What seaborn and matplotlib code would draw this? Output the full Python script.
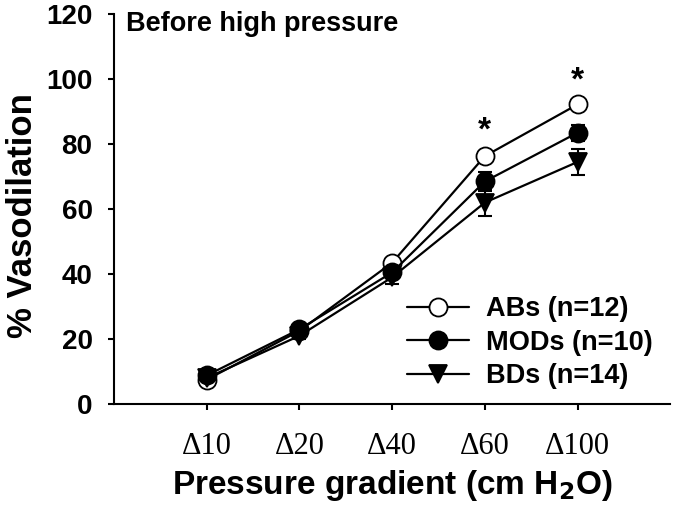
import matplotlib
matplotlib.use("Agg")
import matplotlib.pyplot as plt
import seaborn as sns
import pandas as pd
import numpy as np

categories = ["Δ10", "Δ20", "Δ40", "Δ60", "Δ100"]
groups = ["ABs (n=12)", "MODs (n=10)", "BDs (n=14)"]
abs_vals = [7.5, 22.5, 43.5, 76.3, 92.2]
mods_vals = [8.8, 23.0, 40.5, 68.5, 83.5]
bds_vals = [8.0, 21.0, 39.0, 62.0, 74.5]
abs_se = [1.0, 1.0, 1.5, 1.5, 1.5]
mods_se = [1.0, 1.0, 1.5, 3.0, 2.5]
bds_se = [1.0, 1.0, 2.0, 4.0, 4.0]
star_positions = ["Δ60", "Δ100"]
star_heights = [84.0, 99.5]

sns.set_theme(style="ticks")
plt.rcParams['font.family'] = ['Liberation Sans', 'DejaVu Sans']
plt.rcParams['text.color'] = 'black'
plt.rcParams['axes.labelcolor'] = 'black'
plt.rcParams['xtick.color'] = 'black'
plt.rcParams['ytick.color'] = 'black'

fig = plt.figure(figsize=(6.75, 5.13), dpi=100)
ax = fig.add_axes([0.169, 0.2125, 0.824, 0.760])

xpos = list(range(1, len(categories) + 1))
series = [
    (groups[0], abs_vals, abs_se, "o", "white", 3),
    (groups[2], bds_vals, bds_se, "v", "black", 4),
    (groups[1], mods_vals, mods_se, "o", "black", 5),
]
for name, vals, se, mk, fc, z in series:
    df = pd.DataFrame({"x": xpos, "y": vals})
    ax.errorbar(xpos, vals, yerr=se, fmt="none", ecolor="black",
                elinewidth=1.5, capsize=5, capthick=1.5, zorder=z - 0.5)
    sns.lineplot(data=df, x="x", y="y", ax=ax, color="black", linewidth=1.6,
                 marker=mk, markersize=13, markerfacecolor=fc,
                 markeredgecolor="black", markeredgewidth=1.3, zorder=z,
                 label=name)

for cat, h in zip(star_positions, star_heights):
    ax.text(categories.index(cat) + 1, h, "*", ha="center", va="center",
            fontsize=24, fontweight="bold", color="black")

ax.set_xlim(0, 6)
ax.set_ylim(0, 120)
ax.set_yticks(range(0, 121, 20))
ax.set_xticks(xpos)
ax.set_xticklabels(categories, family=['Liberation Serif', 'DejaVu Serif'], fontsize=22)
for lab in ax.get_yticklabels():
    lab.set_fontsize(20)
    lab.set_fontweight("bold")
ax.tick_params(axis="both", direction="out", length=4.5, width=1.5, colors="black")
ax.tick_params(axis="x", pad=15.5)
ax.tick_params(axis="y", pad=11)
for s in ["top", "right"]:
    ax.spines[s].set_visible(False)
for s in ["left", "bottom"]:
    ax.spines[s].set_linewidth(1.5)
    ax.spines[s].set_color("black")

ax.set_ylabel("% Vasodilation", fontsize=25, fontweight="bold", labelpad=5)
ax.yaxis.label.set_y(0.483)
ax.set_xlabel("Pressure gradient (cm H$_\\mathbf{2}$O)", fontsize=24, fontweight="bold", labelpad=5)

fig.text(126 / 675, 1 - 11 / 513, "Before high pressure", ha="left", va="top",
         fontsize=19.5, fontweight="bold", color="black")

hl, ll = ax.get_legend_handles_labels()
order = [ll.index(g) for g in groups]
leg = ax.legend([hl[i] for i in order], [ll[i] for i in order], loc="upper left",
                bbox_to_anchor=(407 / 675, 1 - 296 / 513), bbox_transform=fig.transFigure,
                frameon=False, prop={"weight": "bold", "size": 19.5}, handlelength=2.3,
                labelspacing=0.28, handletextpad=0.6, borderaxespad=0, borderpad=0)

fig.savefig("out.png", dpi=100)
